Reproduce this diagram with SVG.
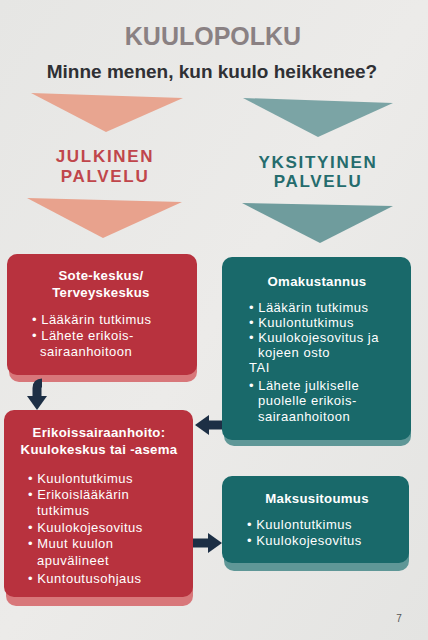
<svg xmlns="http://www.w3.org/2000/svg" width="428" height="640" viewBox="0 0 428 640">
<defs>
<linearGradient id="bg" x1="0" y1="0" x2="1" y2="1">
<stop offset="0" stop-color="#e6e6e4"/>
<stop offset="0.5" stop-color="#ecebe9"/>
<stop offset="1" stop-color="#e4e4e2"/>
</linearGradient>
<marker id="ah" markerUnits="userSpaceOnUse" markerWidth="14" markerHeight="20" viewBox="0 0 14 20" refX="0" refY="10" orient="auto">
<path d="M0,0 L14,10 L0,20 Z" fill="#1d2f45"/>
</marker>
<style>
text{font-family:"Liberation Sans","Noto Sans",Arial,sans-serif;}
.title{font-size:25px;font-weight:700;fill:#8a8183;text-anchor:middle;}
.sub{font-size:19px;font-weight:700;fill:#2f3034;text-anchor:middle;}
.red{fill:#c0464b;font-size:17px;font-weight:700;text-anchor:middle;letter-spacing:1.7px;}
.teal{fill:#256c6d;font-size:17px;font-weight:700;text-anchor:middle;letter-spacing:1.7px;}
.rbox{fill:#b8323e;}
.rsh{fill:#d8777a;}
.tbox{fill:#19696a;}
.tsh{fill:#5f9797;}
.h{fill:#ffffff;font-size:13.2px;font-weight:700;text-anchor:middle;letter-spacing:0.3px;}
.b{fill:#ffffff;font-size:13px;letter-spacing:0.5px;}
.conn{stroke:#1d2f45;stroke-width:9;fill:none;marker-end:url(#ah);}
</style>
</defs>
<rect x="0" y="0" width="428" height="640" fill="url(#bg)"/>

<text class="title" x="213" y="45">KUULOPOLKU</text>
<text class="sub" x="212" y="78">Minne menen, kun kuulo heikkenee?</text>

<g id="julkinen">
<polygon points="31,93 183,98 106,132" fill="#e8a590"/>
<text class="red" x="105" y="162">JULKINEN</text>
<text class="red" x="105" y="182">PALVELU</text>
<polygon points="27,198 182,202 103,238" fill="#e8a28d"/>
</g>

<g id="yksityinen">
<polygon points="243,98 393,103 318,137" fill="#7ba4a5"/>
<text class="teal" x="318" y="168">YKSITYINEN</text>
<text class="teal" x="318" y="187">PALVELU</text>
<polygon points="242,203 393,206 320,243" fill="#6f9c9d"/>
</g>

<g id="sote">
<rect class="rsh" x="9" y="262" width="188" height="120" rx="10"/>
<rect class="rbox" x="7" y="254" width="190" height="121" rx="10"/>
<text class="h" x="101" y="280">Sote-keskus/</text>
<text class="h" x="101" y="297">Terveyskeskus</text>
<text class="b" x="32" y="324">• Lääkärin tutkimus</text>
<text class="b" x="32" y="340">• Lähete erikois-</text>
<text class="b" x="40" y="356">sairaanhoitoon</text>
</g>

<g id="omakustannus">
<rect class="tsh" x="224" y="265" width="187" height="181" rx="10"/>
<rect class="tbox" x="222" y="257" width="189" height="183" rx="10"/>
<text class="h" x="317" y="286">Omakustannus</text>
<text class="b" x="249" y="312">• Lääkärin tutkimus</text>
<text class="b" x="249" y="327">• Kuulontutkimus</text>
<text class="b" x="249" y="342">• Kuulokojesovitus ja</text>
<text class="b" x="258" y="357">kojeen osto</text>
<text class="b" x="249" y="372">TAI</text>
<text class="b" x="249" y="390">• Lähete julkiselle</text>
<text class="b" x="258" y="405">puolelle erikois-</text>
<text class="b" x="258" y="421">sairaanhoitoon</text>
</g>

<g id="erikoissairaanhoito">
<rect class="rsh" x="6" y="418" width="187" height="188" rx="10"/>
<rect class="rbox" x="4" y="410" width="189" height="187" rx="10"/>
<text class="h" x="99" y="437">Erikoissairaanhoito:</text>
<text class="h" x="99" y="454">Kuulokeskus tai -asema</text>
<text class="b" x="28" y="483">• Kuulontutkimus</text>
<text class="b" x="28" y="499">• Erikoislääkärin</text>
<text class="b" x="37" y="515">tutkimus</text>
<text class="b" x="28" y="532">• Kuulokojesovitus</text>
<text class="b" x="28" y="548">• Muut kuulon</text>
<text class="b" x="37" y="565">apuvälineet</text>
<text class="b" x="28" y="583">• Kuntoutusohjaus</text>
</g>

<g id="maksusitoumus">
<rect class="tsh" x="224" y="484" width="185" height="87" rx="10"/>
<rect class="tbox" x="222" y="476" width="187" height="87" rx="10"/>
<text class="h" x="317" y="503">Maksusitoumus</text>
<text class="b" x="247" y="529">• Kuulontutkimus</text>
<text class="b" x="247" y="545">• Kuulokojesovitus</text>
</g>

<g id="connectors">
<path class="conn" d="M42,383 Q37,383 37,388 V396"/>
<path class="conn" d="M222,425 H209"/>
<path class="conn" d="M193,543 H208"/>
</g>

<text x="399" y="622" font-size="10" fill="#555555" text-anchor="middle">7</text>
</svg>
